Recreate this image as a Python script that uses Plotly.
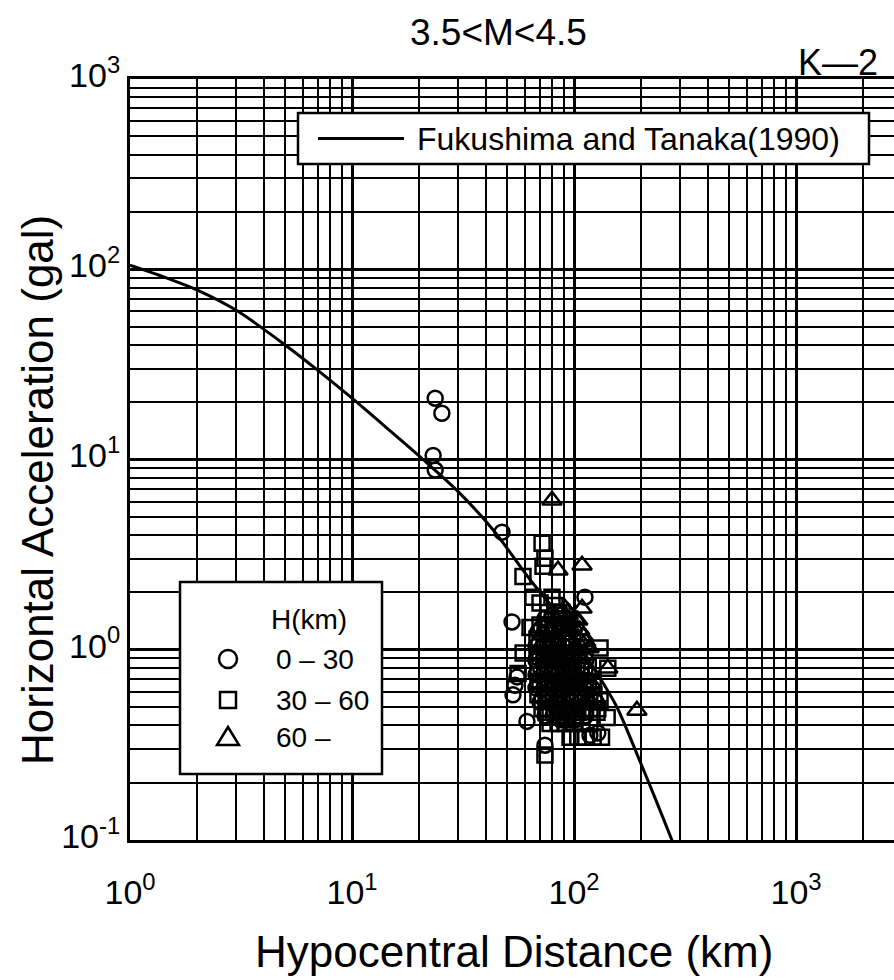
import plotly.graph_objects as go

# ---------------- data ----------------
# Fukushima and Tanaka (1990) attenuation curve, hypocentral distance (km) vs acceleration (gal)
curve_dist = [1, 1.5, 2, 3, 5, 7, 10, 15, 20.9, 30, 43, 65, 93, 106, 130, 156, 198, 230, 276, 300]
curve_acc = [105, 89, 78, 61, 40, 29.5, 21, 14, 10, 6.8, 4.3, 2.25, 1.35, 1.05, 0.72, 0.5, 0.26, 0.17, 0.1, 0.078]

# H = 0 - 30 km  (distance km, acceleration gal)
shallow_pts = [
    (23.7, 21.0), (25.4, 17.5), (23.2, 10.5), (23.7, 8.8), (47.4, 4.15), (52.6, 1.40),
    (112, 1.89), (55.4, 0.72), (53.1, 0.58), (54.2, 0.65), (61.4, 0.42), (74, 0.315),
    (114.5, 0.69), (118, 0.355), (128, 0.365), (86.5, 0.61), (124, 0.54),
    (74.0, 1.46), (79.6, 1.46), (86.5, 1.46), (92.0, 1.46),
    (68.8, 1.24), (74.0, 1.24), (79.6, 1.24), (86.5, 1.24), (93.0, 1.24),
    (67.4, 1.04), (72.5, 1.04), (78.0, 1.04), (83.8, 1.04), (90.1, 1.04), (96.9, 1.04), (104, 1.04),
    (67.4, 0.88), (72.5, 0.88), (78.0, 0.88), (83.8, 0.88), (91.1, 0.88), (97.9, 0.88), (105.4, 0.88), (113, 0.88),
    (67.4, 0.74), (72.5, 0.74), (78.8, 0.74), (84.7, 0.74), (92.0, 0.74), (100, 0.74), (108.7, 0.74), (118, 0.74),
    (67.4, 0.63), (73.3, 0.63), (79.6, 0.63), (86.5, 0.63), (94.0, 0.63), (102, 0.63), (111, 0.63), (120.5, 0.63),
    (70.3, 0.53), (76.4, 0.53), (82.9, 0.53), (90.1, 0.53), (97.9, 0.53), (106.4, 0.53), (116, 0.53), (126, 0.53),
    (74.0, 0.45), (80.4, 0.45), (87.4, 0.45), (94.9, 0.45), (103, 0.45), (113, 0.45),
    (79.6, 1.52), (71.0, 1.30), (82.9, 1.30), (69.5, 1.09), (81.2, 1.09), (94.9, 1.09),
    (75.6, 0.92), (87.4, 0.92), (101, 0.92), (71.0, 0.78), (82.1, 0.78), (95.9, 0.78), (112, 0.78),
    (76.4, 0.66), (90.1, 0.66), (106.4, 0.66), (71.8, 0.56), (84.7, 0.56), (100, 0.56), (118, 0.56),
    (81.2, 0.47), (95.9, 0.47), (113, 0.47), (86.5, 0.43), (102, 0.43),
]

# H = 30 - 60 km
middle_pts = [
    (71.8, 3.63), (74, 3.03), (72.5, 2.75), (58.9, 2.43), (65.3, 1.89), (79.6, 1.89),
    (70.3, 1.76), (82.1, 1.71), (63.4, 1.31), (131, 1.02), (142, 0.80), (141, 0.44),
    (74, 0.28), (96, 0.347), (104, 0.347), (113, 0.347), (122, 0.347), (133, 0.347),
    (59, 0.96), (56, 0.75), (131, 0.54), (127, 0.47),
    (76.4, 1.57), (82.9, 1.57), (88.3, 1.57),
    (70.3, 1.35), (74.8, 1.35), (82.1, 1.35), (89.2, 1.35), (95.9, 1.35),
    (68.1, 1.14), (73.3, 1.14), (78.8, 1.14), (84.7, 1.14), (92.0, 1.14), (98.9, 1.14),
    (68.1, 0.96), (73.3, 0.96), (78.8, 0.96), (84.7, 0.96), (91.1, 0.96), (97.9, 0.96), (106, 0.96),
    (68.8, 0.81), (74.0, 0.81), (79.6, 0.81), (85.6, 0.81), (92.0, 0.81), (98.9, 0.81), (107.6, 0.81), (116, 0.81),
    (68.8, 0.68), (74.0, 0.68), (80.4, 0.68), (87.4, 0.68), (94.9, 0.68), (103, 0.68), (112, 0.68), (122, 0.68),
    (68.8, 0.58), (74.8, 0.58), (81.2, 0.58), (88.3, 0.58), (95.9, 0.58), (104, 0.58), (113, 0.58), (123, 0.58),
    (71.8, 0.49), (78.0, 0.49), (84.7, 0.49), (92.0, 0.49), (100, 0.49), (108.7, 0.49), (118, 0.49), (128, 0.49),
    (78.0, 0.41), (84.7, 0.41), (92.0, 0.41), (100, 0.41), (108.7, 0.41), (118, 0.41),
    (85.6, 1.52), (77.2, 1.30), (90.1, 1.30), (75.6, 1.09), (88.3, 1.09),
    (70.3, 0.92), (81.2, 0.92), (94.0, 0.92), (76.4, 0.78), (89.2, 0.78), (103, 0.78),
    (70.3, 0.66), (82.9, 0.66), (97.9, 0.66), (116, 0.66), (78.0, 0.56), (92.0, 0.56), (108.7, 0.56),
    (74.8, 0.47), (88.3, 0.47), (104, 0.47), (94.0, 0.43),
]

# H = 60 km -
deep_pts = [
    (79.6, 6.1), (84.7, 2.62), (108.7, 2.78), (108.7, 1.65), (142, 0.80), (192, 0.48),
    (94, 1.58), (101, 1.46), (99, 1.33), (106, 1.27), (110, 1.18), (113, 1.10), (117, 1.02),
    (104, 1.43), (93, 1.46), (107, 1.12), (91, 1.65), (70, 1.03), (92, 0.63), (82, 0.88),
]

x_tick_vals = [1, 10, 100, 1000]
x_tick_text = ["10<sup>0</sup>", "10<sup>1</sup>", "10<sup>2</sup>", "10<sup>3</sup>"]
y_tick_vals = [0.1, 1, 10, 100, 1000]
y_tick_text = ["10<sup>-1</sup>", "10<sup>0</sup>", "10<sup>1</sup>", "10<sup>2</sup>", "10<sup>3</sup>"]

legend_groups = ["0 \u2013 30", "30 \u2013 60", "60 \u2013"]

# ---------------- layout geometry (pixels) ----------------
W, H = 894, 980
L, T = 130, 79
PW, PH = 764, 761
B = T + PH

FONT = "Liberation Sans, Arial, sans-serif"


def px(x):
    return (x - L) / PW


def py(y):
    return (B - y) / PH


fig = go.Figure()

fig.add_trace(go.Scatter(
    x=curve_dist, y=curve_acc, mode="lines",
    line=dict(color="black", width=3, shape="spline", smoothing=0.8),
    showlegend=False, hoverinfo="skip"))

marker_line = dict(width=2.5, color="black")
for pts, sym, size in [(shallow_pts, "circle-open", 15),
                       (middle_pts, "square-open", 15),
                       (deep_pts, "triangle-up-open", 17)]:
    fig.add_trace(go.Scatter(
        x=[p[0] for p in pts], y=[p[1] for p in pts], mode="markers",
        marker=dict(symbol=sym, size=size, color="black", line=marker_line),
        showlegend=False, cliponaxis=True))

x_minor = [m * 10 ** e for e in range(0, 4) for m in range(2, 10)]
y_minor = [m * 10.0 ** e for e in range(-1, 3) for m in range(2, 10)]

fig.update_xaxes(
    type="log", range=[0, PW / 222.0],
    tickvals=x_tick_vals, ticktext=x_tick_text, ticks="",
    tickfont=dict(family=FONT, size=34, color="black"),
    ticklabelstandoff=20,
    showgrid=True, gridcolor="black", gridwidth=2.5,
    minor=dict(tickvals=x_minor, showgrid=True, gridcolor="black", gridwidth=1.5, ticks=""),
    showline=True, linecolor="black", linewidth=3, mirror=True, zeroline=False)

fig.update_yaxes(
    type="log", range=[-1, 3],
    tickvals=y_tick_vals, ticktext=y_tick_text, ticks="",
    tickfont=dict(family=FONT, size=34, color="black"),
    ticklabelshift=-4,
    showgrid=True, gridcolor="black", gridwidth=2.5,
    minor=dict(tickvals=y_minor, showgrid=True, gridcolor="black", gridwidth=2, ticks=""),
    showline=True, linecolor="black", linewidth=3, mirror=False, zeroline=False)

shapes = [
    # legend 1 box and line sample
    dict(type="rect", xref="paper", yref="paper", x0=px(298), x1=px(869), y0=py(164), y1=py(113),
         fillcolor="white", line=dict(color="black", width=2.5), layer="above"),
    dict(type="line", xref="paper", yref="paper", x0=px(318), x1=px(404), y0=py(138.5), y1=py(138.5),
         line=dict(color="black", width=3), layer="above"),
    # legend 2 box
    dict(type="rect", xref="paper", yref="paper", x0=px(180), x1=px(382), y0=py(774), y1=py(582),
         fillcolor="white", line=dict(color="black", width=2.5), layer="above"),
    # legend 2 symbols
    dict(type="circle", xref="paper", yref="paper", x0=px(219), x1=px(237), y0=py(668), y1=py(650),
         line=dict(color="black", width=2.5), layer="above"),
    dict(type="rect", xref="paper", yref="paper", x0=px(220), x1=px(236), y0=py(708), y1=py(692),
         line=dict(color="black", width=2.5), layer="above"),
    dict(type="path", xref="paper", yref="paper",
         path=f"M {px(217)} {py(745)} L {px(239)} {py(745)} L {px(228)} {py(727)} Z",
         line=dict(color="black", width=2.5), layer="above"),
]


def ann(text, x, y, size, xanchor="center", angle=0):
    return dict(text=text, x=px(x), y=py(y), xref="paper", yref="paper", showarrow=False,
                xanchor=xanchor, yanchor="middle", textangle=angle,
                font=dict(family=FONT, size=size, color="black"))


annotations = [
    ann("3.5&lt;M&lt;4.5", 498, 32, 37),
    ann("K\u20142", 880, 62, 36, xanchor="right"),
    ann("Fukushima and Tanaka(1990)", 415, 139, 32, xanchor="left"),
    ann("Hypocentral Distance (km)", 514, 952, 44),
    ann("Horizontal Acceleration (gal)", 37, 490, 44, angle=-90),
    ann("H(km)", 308.5, 619, 28),
    ann(legend_groups[0], 274, 659, 28, xanchor="left"),
    ann(legend_groups[1], 274, 700, 28, xanchor="left"),
    ann(legend_groups[2], 274, 737, 28, xanchor="left"),
]

fig.update_layout(
    width=W, height=H,
    margin=dict(l=L, r=W - L - PW, t=T, b=H - B, pad=0),
    paper_bgcolor="white", plot_bgcolor="white",
    showlegend=False,
    shapes=shapes, annotations=annotations,
    font=dict(family=FONT, color="black"),
)

fig.write_html("out.html")
